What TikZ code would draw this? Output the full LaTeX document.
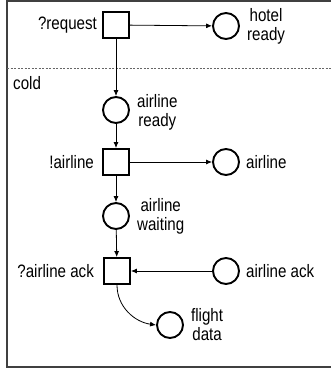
\documentclass[tikz,border=0pt]{standalone}
\usepackage{fontspec}
\setmainfont[FakeStretch=0.84]{Liberation Sans}
\usetikzlibrary{arrows.meta}
\begin{document}
\begin{tikzpicture}[x=1pt,y=-1pt,
  font=\fontsize{18}{19}\selectfont,
  trans/.style={draw, line width=1.9pt, minimum size=26pt, inner sep=0pt},
  place/.style={draw, circle, line width=1.9pt, minimum size=26pt, inner sep=0pt},
  lbl/.style={align=center, inner sep=0pt},
  arc/.style={-{Latex[length=6pt,width=5pt]}, line width=0.8pt}]
\useasboundingbox (0,0) rectangle (331,372);
\draw[line width=1.4pt, color=black!75] (340,1) -- (7,1) -- (7,367) -- (340,367);
\draw[dash pattern=on 2pt off 1.5pt, line width=0.8pt, color=black!60] (7,68) -- (331,68);
\node[lbl, anchor=west] (cold) at (13,83) {cold};

\node[trans] (t1) at (116,25) {};
\node[place] (p1) at (226,26) {};
\node[place] (p2) at (116,110) {};
\node[trans] (t2) at (116,162) {};
\node[place] (p3) at (226,162) {};
\node[place] (p4) at (116,216) {};
\node[trans] (t3) at (117,271) {};
\node[place] (p5) at (226,271) {};
\node[place] (p6) at (170,325) {};

\node[lbl, anchor=east] (lt1) at ([xshift=-5pt]t1.west) {?request};
\node[lbl, anchor=west] (lp1) at ([xshift=7pt]p1.east) {hotel\\ready};
\node[lbl, anchor=west] (lp2) at ([xshift=7pt,yshift=-2pt]p2.east) {airline\\ready};
\node[lbl, anchor=east] (lt2) at ([xshift=-8pt]t2.west) {!airline};
\node[lbl, anchor=west] (lp3) at ([xshift=6pt]p3.east) {airline};
\node[lbl, anchor=west] (lp4) at ([xshift=7pt]p4.east) {airline\\waiting};
\node[lbl, anchor=east] (lt3) at ([xshift=-9pt]t3.west) {?airline ack};
\node[lbl, anchor=west] (lp5) at ([xshift=6pt]p5.east) {airline ack};
\node[lbl, anchor=west] (lp6) at ([xshift=7pt]p6.east) {flight\\data};

\draw[arc] (t1) -- (p1);
\draw[arc] (t1) -- (p2);
\draw[arc] (p2) -- (t2);
\draw[arc] (t2) -- (p3);
\draw[arc] (t2) -- (p4);
\draw[arc] (p4) -- (t3);
\draw[arc] (p5) -- (t3);
\draw[arc] (t3.south) to[out=-90, in=172] (p6.west);
\end{tikzpicture}
\end{document}
